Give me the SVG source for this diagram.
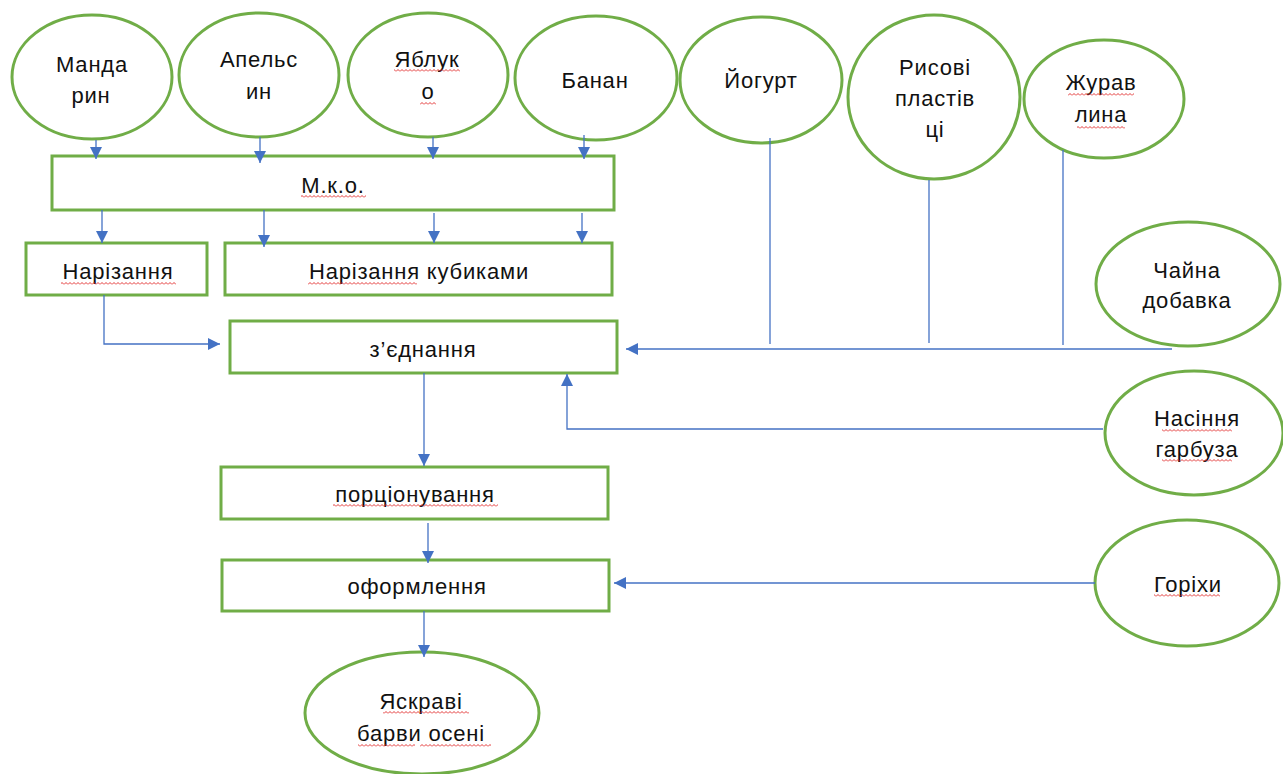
<svg xmlns="http://www.w3.org/2000/svg" width="1283" height="774" viewBox="0 0 1283 774">
<style>
.n{fill:#fff;stroke:#70AD47;stroke-width:3}
.t{font-family:"Liberation Sans","Noto Sans",sans-serif;font-size:22px;letter-spacing:0.8px;fill:#111;text-anchor:middle}
.c{fill:none;stroke:#4472C4;stroke-width:1.3}
.w{fill:url(#wave)}
</style>
<defs>
<marker id="ah" viewBox="0 0 12 12" refX="12" refY="6" markerWidth="12" markerHeight="12" markerUnits="userSpaceOnUse" orient="auto">
<path d="M0,0 L12,6 L0,12 z" fill="#4472C4"/>
</marker>
<pattern id="wave" width="4" height="3" patternUnits="userSpaceOnUse">
<path d="M0,2.5 L2,0.5 L4,2.5" fill="none" stroke="#E02020" stroke-width="0.9"/>
</pattern>
</defs>
<rect width="1283" height="774" fill="#fff"/>

<g id="mandaryn"><ellipse class="n" cx="92" cy="77" rx="80" ry="62"/>
<text class="t" x="92" y="72">Манда</text><text class="t" x="91" y="103">рин</text></g>
<g id="apelsyn"><ellipse class="n" cx="259" cy="75" rx="80" ry="62"/>
<text class="t" x="259" y="67">Апельс</text><text class="t" x="259" y="99">ин</text></g>
<g id="yabluko"><ellipse class="n" cx="428" cy="75" rx="80" ry="62"/>
<text class="t" x="427" y="67">Яблук</text><text class="t" x="428" y="99">о</text>
<rect class="w" x="394" y="69" width="66" height="3"/><rect class="w" x="420" y="102" width="16" height="3"/></g>
<g id="banan"><ellipse class="n" cx="596" cy="78" rx="81" ry="62"/>
<text class="t" x="595" y="88">Банан</text></g>
<g id="yogurt"><ellipse class="n" cx="761" cy="80" rx="81" ry="63"/>
<text class="t" x="761" y="88">Йогурт</text></g>
<g id="rysovi"><ellipse class="n" cx="934" cy="97" rx="86" ry="82"/>
<text class="t" x="935" y="75">Рисові</text><text class="t" x="935" y="106">пластів</text><text class="t" x="935" y="137">ці</text></g>
<g id="zhuravlyna"><ellipse class="n" cx="1104" cy="99" rx="80" ry="59"/>
<text class="t" x="1101" y="90">Журав</text><text class="t" x="1101" y="122">лина</text>
<rect class="w" x="1068" y="93" width="66" height="3"/><rect class="w" x="1077" y="126" width="48" height="3"/></g>
<g id="chaina"><ellipse class="n" cx="1188" cy="284" rx="92" ry="62"/>
<text class="t" x="1187" y="278">Чайна</text><text class="t" x="1187" y="308">добавка</text></g>
<g id="nasinnya"><ellipse class="n" cx="1194" cy="433" rx="89" ry="62"/>
<text class="t" x="1197" y="426">Насіння</text><text class="t" x="1197" y="457">гарбуза</text>
<rect class="w" x="1162" y="429" width="70" height="3"/><rect class="w" x="1162" y="459" width="70" height="3"/></g>
<g id="gorikhy"><ellipse class="n" cx="1187" cy="583" rx="92" ry="63"/>
<text class="t" x="1188" y="592">Горіхи</text>
<rect class="w" x="1154" y="594" width="66" height="3"/></g>

<g id="mko"><rect class="n" x="52" y="156" width="562" height="54"/>
<text class="t" x="333" y="193">М.к.о.</text><rect class="w" x="301" y="195" width="65" height="3"/></g>
<g id="narizannya"><rect class="n" x="26" y="243" width="181" height="52"/>
<text class="t" x="118" y="279">Нарізання</text><rect class="w" x="61" y="282" width="115" height="3"/></g>
<g id="kubyky"><rect class="n" x="225" y="243" width="387" height="52"/>
<text class="t" x="419" y="279">Нарізання кубиками</text><rect class="w" x="308" y="282" width="109" height="3"/></g>
<g id="zyednannya"><rect class="n" x="230" y="321" width="387" height="52"/>
<text class="t" x="423" y="357">з’єднання</text></g>
<g id="portsionuvannya"><rect class="n" x="221" y="467" width="387" height="52"/>
<text class="t" x="415" y="502">порціонування</text><rect class="w" x="333" y="504" width="165" height="3"/></g>
<g id="oformlennya"><rect class="n" x="222" y="560" width="387" height="51"/>
<text class="t" x="417" y="594">оформлення</text></g>
<g id="yaskravi"><ellipse class="n" cx="422" cy="713" rx="117" ry="61"/>
<text class="t" x="421" y="709">Яскраві</text><text class="t" x="421" y="741">барви осені</text>
<rect class="w" x="383" y="711" width="86" height="3"/><rect class="w" x="358" y="744" width="57" height="3"/><rect class="w" x="420" y="744" width="71" height="3"/></g>

<g id="connectors">
<path class="c" d="M96,140 V159" marker-end="url(#ah)"/>
<path class="c" d="M260,137 V163" marker-end="url(#ah)"/>
<path class="c" d="M433,137 V159" marker-end="url(#ah)"/>
<path class="c" d="M584,135 V159" marker-end="url(#ah)"/>
<path class="c" d="M102,210 V243" marker-end="url(#ah)"/>
<path class="c" d="M264,210 V247" marker-end="url(#ah)"/>
<path class="c" d="M434,213 V243" marker-end="url(#ah)"/>
<path class="c" d="M582,213 V243" marker-end="url(#ah)"/>
<path class="c" d="M104,295 V344 H220" marker-end="url(#ah)"/>
<path class="c" d="M1172,349 H626" marker-end="url(#ah)"/>
<path class="c" d="M770,138 V344"/>
<path class="c" d="M929,180 V343"/>
<path class="c" d="M1063,150 V345"/>
<path class="c" d="M424,373 V466" marker-end="url(#ah)"/>
<path class="c" d="M1103,429 H567 V374" marker-end="url(#ah)"/>
<path class="c" d="M428,523 V563" marker-end="url(#ah)"/>
<path class="c" d="M1095,583 H614" marker-end="url(#ah)"/>
<path class="c" d="M424,611 V657" marker-end="url(#ah)"/>
</g>
</svg>
